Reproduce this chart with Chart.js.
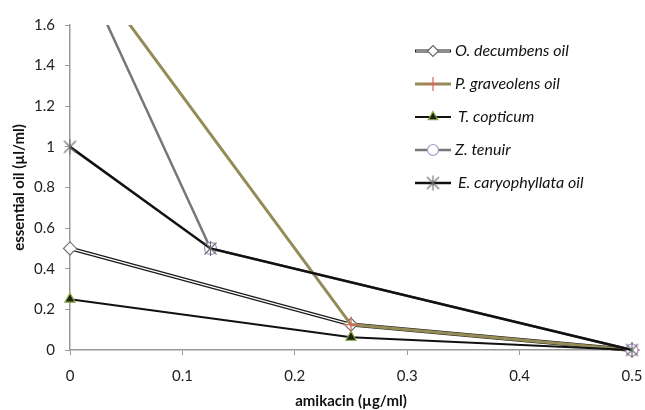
<!DOCTYPE html>
<html>
<head>
<meta charset="utf-8">
<script src="https://cdn.jsdelivr.net/npm/chart.js@4/dist/chart.umd.min.js"></script>
<style>
  html, body { margin: 0; padding: 0; background: #fff; }
  #wrap { width: 645px; height: 410px; position: relative; }
</style>
</head>
<body>
<div id="wrap"><canvas id="chart"></canvas></div>
<script>
// data
const xValues = [0, 0.125, 0.25, 0.5];
const oDecumbens = [0.5, null, 0.125, 0];
const pGraveolens = [2, null, 0.125, 0];
const tCopticum = [0.25, null, 0.0625, 0];
const zTenuir = [2, 0.5, null, 0];
const eCaryophyllata = [1, 0.5, null, 0];
const seriesNames = ['O. decumbens oil', 'P. graveolens oil', 'T. copticum', 'Z. tenuir', 'E. caryophyllata oil'];
const xTicks = [0, 0.1, 0.2, 0.3, 0.4, 0.5];
const yTicks = [0, 0.2, 0.4, 0.6, 0.8, 1, 1.2, 1.4, 1.6];

const FONT = 'Lato, "Open Sans", sans-serif';
const toPts = arr => xValues.map((x, i) => ({ x, y: arr[i] })).filter(p => p.y !== null);

// six-armed asterisk like the Excel marker
const asterisk = (() => {
  const c = document.createElement('canvas');
  c.width = 17; c.height = 17;
  const g = c.getContext('2d');
  g.strokeStyle = '#6a6a6a';
  g.lineWidth = 1.1;
  g.beginPath();
  g.moveTo(2.5, 2.5); g.lineTo(14.5, 14.5);
  g.moveTo(14.5, 2.5); g.lineTo(2.5, 14.5);
  g.moveTo(8.5, 1); g.lineTo(8.5, 16);
  g.stroke();
  return c;
})();

// lines are cut at the top of the plot, markers on the other edges stay whole
const base = {
  spanGaps: true,
  tension: 0,
  fill: false,
  clip: { left: false, top: 0, right: false, bottom: false },
  pointHitRadius: 4
};

const datasets = [
  { ...base, label: seriesNames[0], data: toPts(oDecumbens), borderColor: '#1a1a1a', borderWidth: 4,
    pointStyle: 'rectRot', pointRadius: 6.5, pointBackgroundColor: '#fff', pointBorderColor: '#666', pointBorderWidth: 1.1, order: 10 },
  { ...base, label: '_core', data: toPts(oDecumbens), borderColor: '#fff', borderWidth: 1.4,
    pointRadius: 0, order: 9 },
  { ...base, label: seriesNames[1], data: toPts(pGraveolens), borderColor: '#958b57', borderWidth: 3,
    pointStyle: 'cross', pointRadius: 8, pointBorderColor: '#e0605a', pointBorderWidth: 1.2, order: 8 },
  { ...base, label: seriesNames[2], data: toPts(tCopticum), borderColor: '#111', borderWidth: 2,
    pointStyle: 'triangle', pointRadius: 6, pointBackgroundColor: '#1d2410', pointBorderColor: '#8fae4c', pointBorderWidth: 1.2, order: 7 },
  { ...base, label: seriesNames[3], data: toPts(zTenuir), borderColor: '#777', borderWidth: 2.5,
    pointStyle: 'circle', pointRadius: 6, pointBackgroundColor: '#fff', pointBorderColor: '#a895cc', pointBorderWidth: 1.2, order: 6 },
  { ...base, label: seriesNames[4], data: toPts(eCaryophyllata), borderColor: '#111', borderWidth: 2.5,
    pointStyle: asterisk, pointRadius: 8, order: 5 }
];

// legend inside the plot, Excel style (line + marker + italic text)
const legendPlugin = {
  id: 'sideLegend',
  afterDraw(chart) {
    const ctx = chart.ctx;
    const entries = chart.data.datasets.filter(d => !d.label.startsWith('_'));
    const x0 = 415, x1 = 451, top = 51, step = 33;
    entries.forEach((ds, i) => {
      const y = top + i * step;
      ctx.save();
      ctx.lineCap = 'butt';
      ctx.strokeStyle = ds.borderColor;
      ctx.lineWidth = Math.min(ds.borderWidth, 3);
      ctx.beginPath(); ctx.moveTo(x0, y); ctx.lineTo(x1, y); ctx.stroke();
      if (i === 0) {
        ctx.strokeStyle = '#fff'; ctx.lineWidth = 1.2;
        ctx.beginPath(); ctx.moveTo(x0 + 1, y); ctx.lineTo(x1 - 1, y); ctx.stroke();
      }
      ctx.fillStyle = ds.pointBackgroundColor || '#fff';
      ctx.strokeStyle = ds.pointBorderColor || '#666';
      ctx.lineWidth = ds.pointBorderWidth || 1;
      Chart.helpers.drawPoint(ctx, {
        pointStyle: ds.pointStyle,
        radius: ds.pointStyle === 'cross' ? 7 : 5.5,
        borderWidth: ds.pointBorderWidth || 1,
        rotation: 0
      }, (x0 + x1) / 2, y);
      ctx.fillStyle = '#111';
      ctx.font = 'italic 16px ' + FONT;
      ctx.textBaseline = 'middle';
      ctx.textAlign = 'left';
      const tx = (i === 2 || i === 4) ? 458 : 455;
      ctx.fillText(ds.label, tx, y);
      ctx.restore();
    });
  }
};

new Chart(document.getElementById('chart'), {
  type: 'line',
  data: { datasets },
  plugins: [legendPlugin],
  options: {
    responsive: true,
    maintainAspectRatio: false,
    animation: false,
    layout: { padding: { top: 25, right: 13, left: 0, bottom: 0 } },
    plugins: { legend: { display: false }, tooltip: { enabled: false } },
    scales: {
      x: {
        type: 'linear',
        min: 0, max: 0.5,
        afterBuildTicks: axis => { axis.ticks = xTicks.map(v => ({ value: v })); },
        afterFit: axis => { axis.height = 60; axis.paddingLeft = 0; axis.paddingRight = 0; },
        ticks: { color: '#222', font: { family: FONT, size: 15 }, padding: 12, maxRotation: 0, callback: v => String(v) },
        grid: { drawOnChartArea: false, color: '#9a9a9a', tickLength: 5 },
        border: { color: '#9a9a9a', width: 1.5 },
        title: { display: true, text: 'amikacin (µg/ml)', color: '#111', font: { family: FONT, size: 15, weight: 'bold' }, padding: { top: 0, bottom: 0 } }
      },
      y: {
        type: 'linear',
        min: 0, max: 1.6,
        afterBuildTicks: axis => { axis.ticks = yTicks.map(v => ({ value: v })); },
        afterFit: axis => { axis.width = 70; axis.paddingTop = 0; axis.paddingBottom = 0; },
        ticks: { color: '#222', font: { family: FONT, size: 15 }, padding: 10, callback: v => String(v) },
        grid: { drawOnChartArea: false, color: '#9a9a9a', tickLength: 5 },
        border: { color: '#9a9a9a', width: 1.5 },
        title: { display: true, text: 'essential oil (µl/ml)', color: '#111', font: { family: FONT, size: 15, weight: 'bold' }, padding: { top: 10, bottom: 0 } }
      }
    }
  }
});
</script>
</body>
</html>
